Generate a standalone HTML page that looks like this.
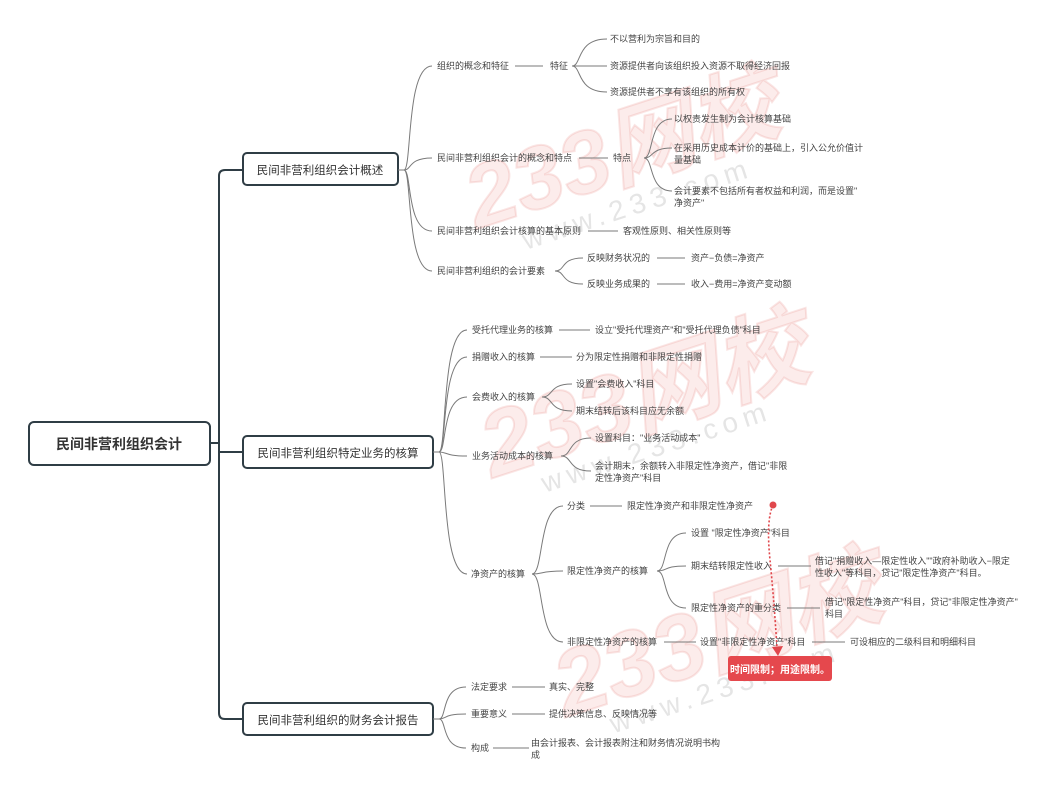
<!DOCTYPE html>
<html><head><meta charset="utf-8"><style>
html,body{margin:0;padding:0;background:#fff;}
svg{display:block;}
text{font-family:"Liberation Sans","Noto Sans CJK SC",sans-serif;}
.t{font-size:9px;fill:#444;}
.l{stroke:#7a7a7a;stroke-width:1;fill:none;}
.b{fill:#fff;stroke:#2f3d45;stroke-width:2;}
.wm{font-family:"Liberation Sans","Noto Sans CJK SC",sans-serif;font-weight:bold;fill:rgba(236,120,110,0.14);stroke:rgba(225,100,95,0.16);stroke-width:2;font-style:italic;}
.ww{font-family:"Liberation Sans",sans-serif;font-size:28px;fill:rgba(150,150,150,0.25);letter-spacing:6px;}
</style></head><body>
<svg width="1050" height="799" viewBox="0 0 1050 799" xmlns="http://www.w3.org/2000/svg">
<g transform="rotate(-18 560 160)"><text class="wm" x="460" y="200" font-size="88">233网校</text><text class="ww" x="500" y="235">www.233.com</text></g>
<g transform="rotate(-18 620 400)"><text class="wm" x="475" y="435" font-size="92">233网校</text><text class="ww" x="520" y="465">www.233.com</text></g>
<g transform="rotate(-18 660 650)"><text class="wm" x="550" y="685" font-size="92">233网校</text><text class="ww" x="590" y="715">www.233.com</text></g>

<path d="M210 443 H219" stroke="#2f3d45" stroke-width="2" fill="none"/>
<path d="M243 170 H225 Q219 170 219 176 V713 Q219 719 225 719 H243 M219 452 H243" stroke="#2f3d45" stroke-width="2" fill="none"/>
<rect class="b" x="29" y="422" width="181" height="43" rx="5"/>
<text x="119" y="449" text-anchor="middle" style="font-size:14px;font-weight:bold;fill:#333;">民间非营利组织会计</text>
<rect class="b" x="243" y="153" width="155" height="32" rx="4"/>
<text x="320" y="174" text-anchor="middle" style="font-size:11.5px;fill:#333;">民间非营利组织会计概述</text>
<rect class="b" x="243" y="436" width="190" height="32" rx="4"/>
<text x="338" y="457" text-anchor="middle" style="font-size:11.5px;fill:#333;">民间非营利组织特定业务的核算</text>
<rect class="b" x="243" y="703" width="190" height="32" rx="4"/>
<text x="338" y="724" text-anchor="middle" style="font-size:11.5px;fill:#333;">民间非营利组织的财务会计报告</text>

<g class="l">
<path d="M398 170 H404 C412 170 406 66 432 66"/>
<path d="M404 170 C412 170 408 158 432 158"/>
<path d="M404 170 C412 170 406 231 432 231"/>
<path d="M404 170 C412 170 406 271 432 271"/>
<path d="M515 66 H543"/>
<path d="M572 66 C582 66 576 39 607 39"/>
<path d="M572 66 H607"/>
<path d="M572 66 C582 66 576 92 607 92"/>
<path d="M579 158 H608"/>
<path d="M644 158 C654 158 648 119 672 119"/>
<path d="M644 158 C654 158 650 148 672 148"/>
<path d="M644 158 C654 158 648 191 672 191"/>
<path d="M588 231 H618"/>
<path d="M555 271 C566 271 560 258 583 258"/>
<path d="M555 271 C566 271 560 284 583 284"/>
<path d="M657 258 H685"/>
<path d="M657 284 H685"/>
</g>
<g class="t">
<text x="437" y="69">组织的概念和特征</text>
<text x="550" y="69">特征</text>
<text x="610" y="42">不以营利为宗旨和目的</text>
<text x="610" y="69">资源提供者向该组织投入资源不取得经济回报</text>
<text x="610" y="95">资源提供者不享有该组织的所有权</text>
<text x="437" y="161">民间非营利组织会计的概念和特点</text>
<text x="613" y="161">特点</text>
<text x="674" y="122">以权责发生制为会计核算基础</text>
<text x="674" y="151">在采用历史成本计价的基础上，引入公允价值计</text>
<text x="674" y="163">量基础</text>
<text x="674" y="194">会计要素不包括所有者权益和利润，而是设置"</text>
<text x="674" y="206">净资产"</text>
<text x="437" y="234">民间非营利组织会计核算的基本原则</text>
<text x="623" y="234">客观性原则、相关性原则等</text>
<text x="437" y="274">民间非营利组织的会计要素</text>
<text x="587" y="261">反映财务状况的</text>
<text x="587" y="287">反映业务成果的</text>
<text x="691" y="261">资产−负债=净资产</text>
<text x="691" y="287">收入−费用=净资产变动额</text>
</g>

<g class="l">
<path d="M433 452 H439 C447 452 441 330 467 330"/>
<path d="M439 452 C447 452 441 357 467 357"/>
<path d="M439 452 C447 452 441 397 467 397"/>
<path d="M439 452 C447 452 445 456 467 456"/>
<path d="M439 452 C447 452 441 574 467 574"/>
<path d="M559 330 H590"/>
<path d="M540 357 H572"/>
<path d="M542 397 C554 397 548 384 572 384"/>
<path d="M542 397 C554 397 548 411 572 411"/>
<path d="M561 456 C573 456 567 438 591 438"/>
<path d="M561 456 C573 456 567 471 591 471"/>
<path d="M532 574 C544 574 538 506 563 506"/>
<path d="M532 574 C544 574 540 571 563 571"/>
<path d="M532 574 C544 574 538 642 563 642"/>
<path d="M590 506 H622"/>
<path d="M657 571 C668 571 661 533 686 533"/>
<path d="M657 571 C668 571 663 566 686 566"/>
<path d="M657 571 C668 571 661 608 686 608"/>
<path d="M778 566 H811"/>
<path d="M787 608 H820"/>
<path d="M664 642 H696"/>
<path d="M812 642 H845"/>
</g>
<g class="t">
<text x="472" y="333">受托代理业务的核算</text>
<text x="595" y="333">设立"受托代理资产"和"受托代理负债"科目</text>
<text x="472" y="360">捐赠收入的核算</text>
<text x="576" y="360">分为限定性捐赠和非限定性捐赠</text>
<text x="472" y="400">会费收入的核算</text>
<text x="576" y="387">设置"会费收入"科目</text>
<text x="576" y="414">期末结转后该科目应无余额</text>
<text x="472" y="459">业务活动成本的核算</text>
<text x="595" y="441">设置科目："业务活动成本"</text>
<text x="595" y="469">会计期末，余额转入非限定性净资产，借记"非限</text>
<text x="595" y="481">定性净资产"科目</text>
<text x="471" y="577">净资产的核算</text>
<text x="567" y="509">分类</text>
<text x="627" y="509">限定性净资产和非限定性净资产</text>
<text x="567" y="574">限定性净资产的核算</text>
<text x="691" y="536">设置 "限定性净资产"科目</text>
<text x="691" y="569">期末结转限定性收入</text>
<text x="815" y="564">借记"捐赠收入—限定性收入""政府补助收入−限定</text>
<text x="815" y="576">性收入"等科目，贷记"限定性净资产"科目。</text>
<text x="691" y="611">限定性净资产的重分类</text>
<text x="825" y="605">借记"限定性净资产"科目，贷记"非限定性净资产"</text>
<text x="825" y="617">科目</text>
<text x="567" y="645">非限定性净资产的核算</text>
<text x="700" y="645">设置"非限定性净资产"科目</text>
<text x="850" y="645">可设相应的二级科目和明细科目</text>
</g>
<circle cx="773" cy="505" r="3.5" fill="#e0474c"/>
<path d="M773 505 Q766 520 770 560 T777 648" stroke="#e0474c" stroke-width="1.6" stroke-dasharray="2 2" fill="none"/>
<path d="M772 647 L778 656 L783 646 Z" fill="#e0474c"/>
<rect x="728" y="656" width="104" height="25" rx="3" fill="#e5484d"/>
<text x="780" y="673" text-anchor="middle" style="font-size:10px;font-weight:bold;fill:#fff;">时间限制；用途限制。</text>

<g class="l">
<path d="M433 719 H439 C447 719 441 687 466 687"/>
<path d="M439 719 C447 719 443 714 466 714"/>
<path d="M439 719 C447 719 441 748 466 748"/>
<path d="M512 687 H545"/>
<path d="M512 714 H545"/>
<path d="M493 748 H529"/>
</g>
<g class="t">
<text x="471" y="690">法定要求</text>
<text x="549" y="690">真实、完整</text>
<text x="471" y="717">重要意义</text>
<text x="549" y="717">提供决策信息、反映情况等</text>
<text x="471" y="751">构成</text>
<text x="531" y="746">由会计报表、会计报表附注和财务情况说明书构</text>
<text x="531" y="758">成</text>
</g>
</svg>
</body></html>
